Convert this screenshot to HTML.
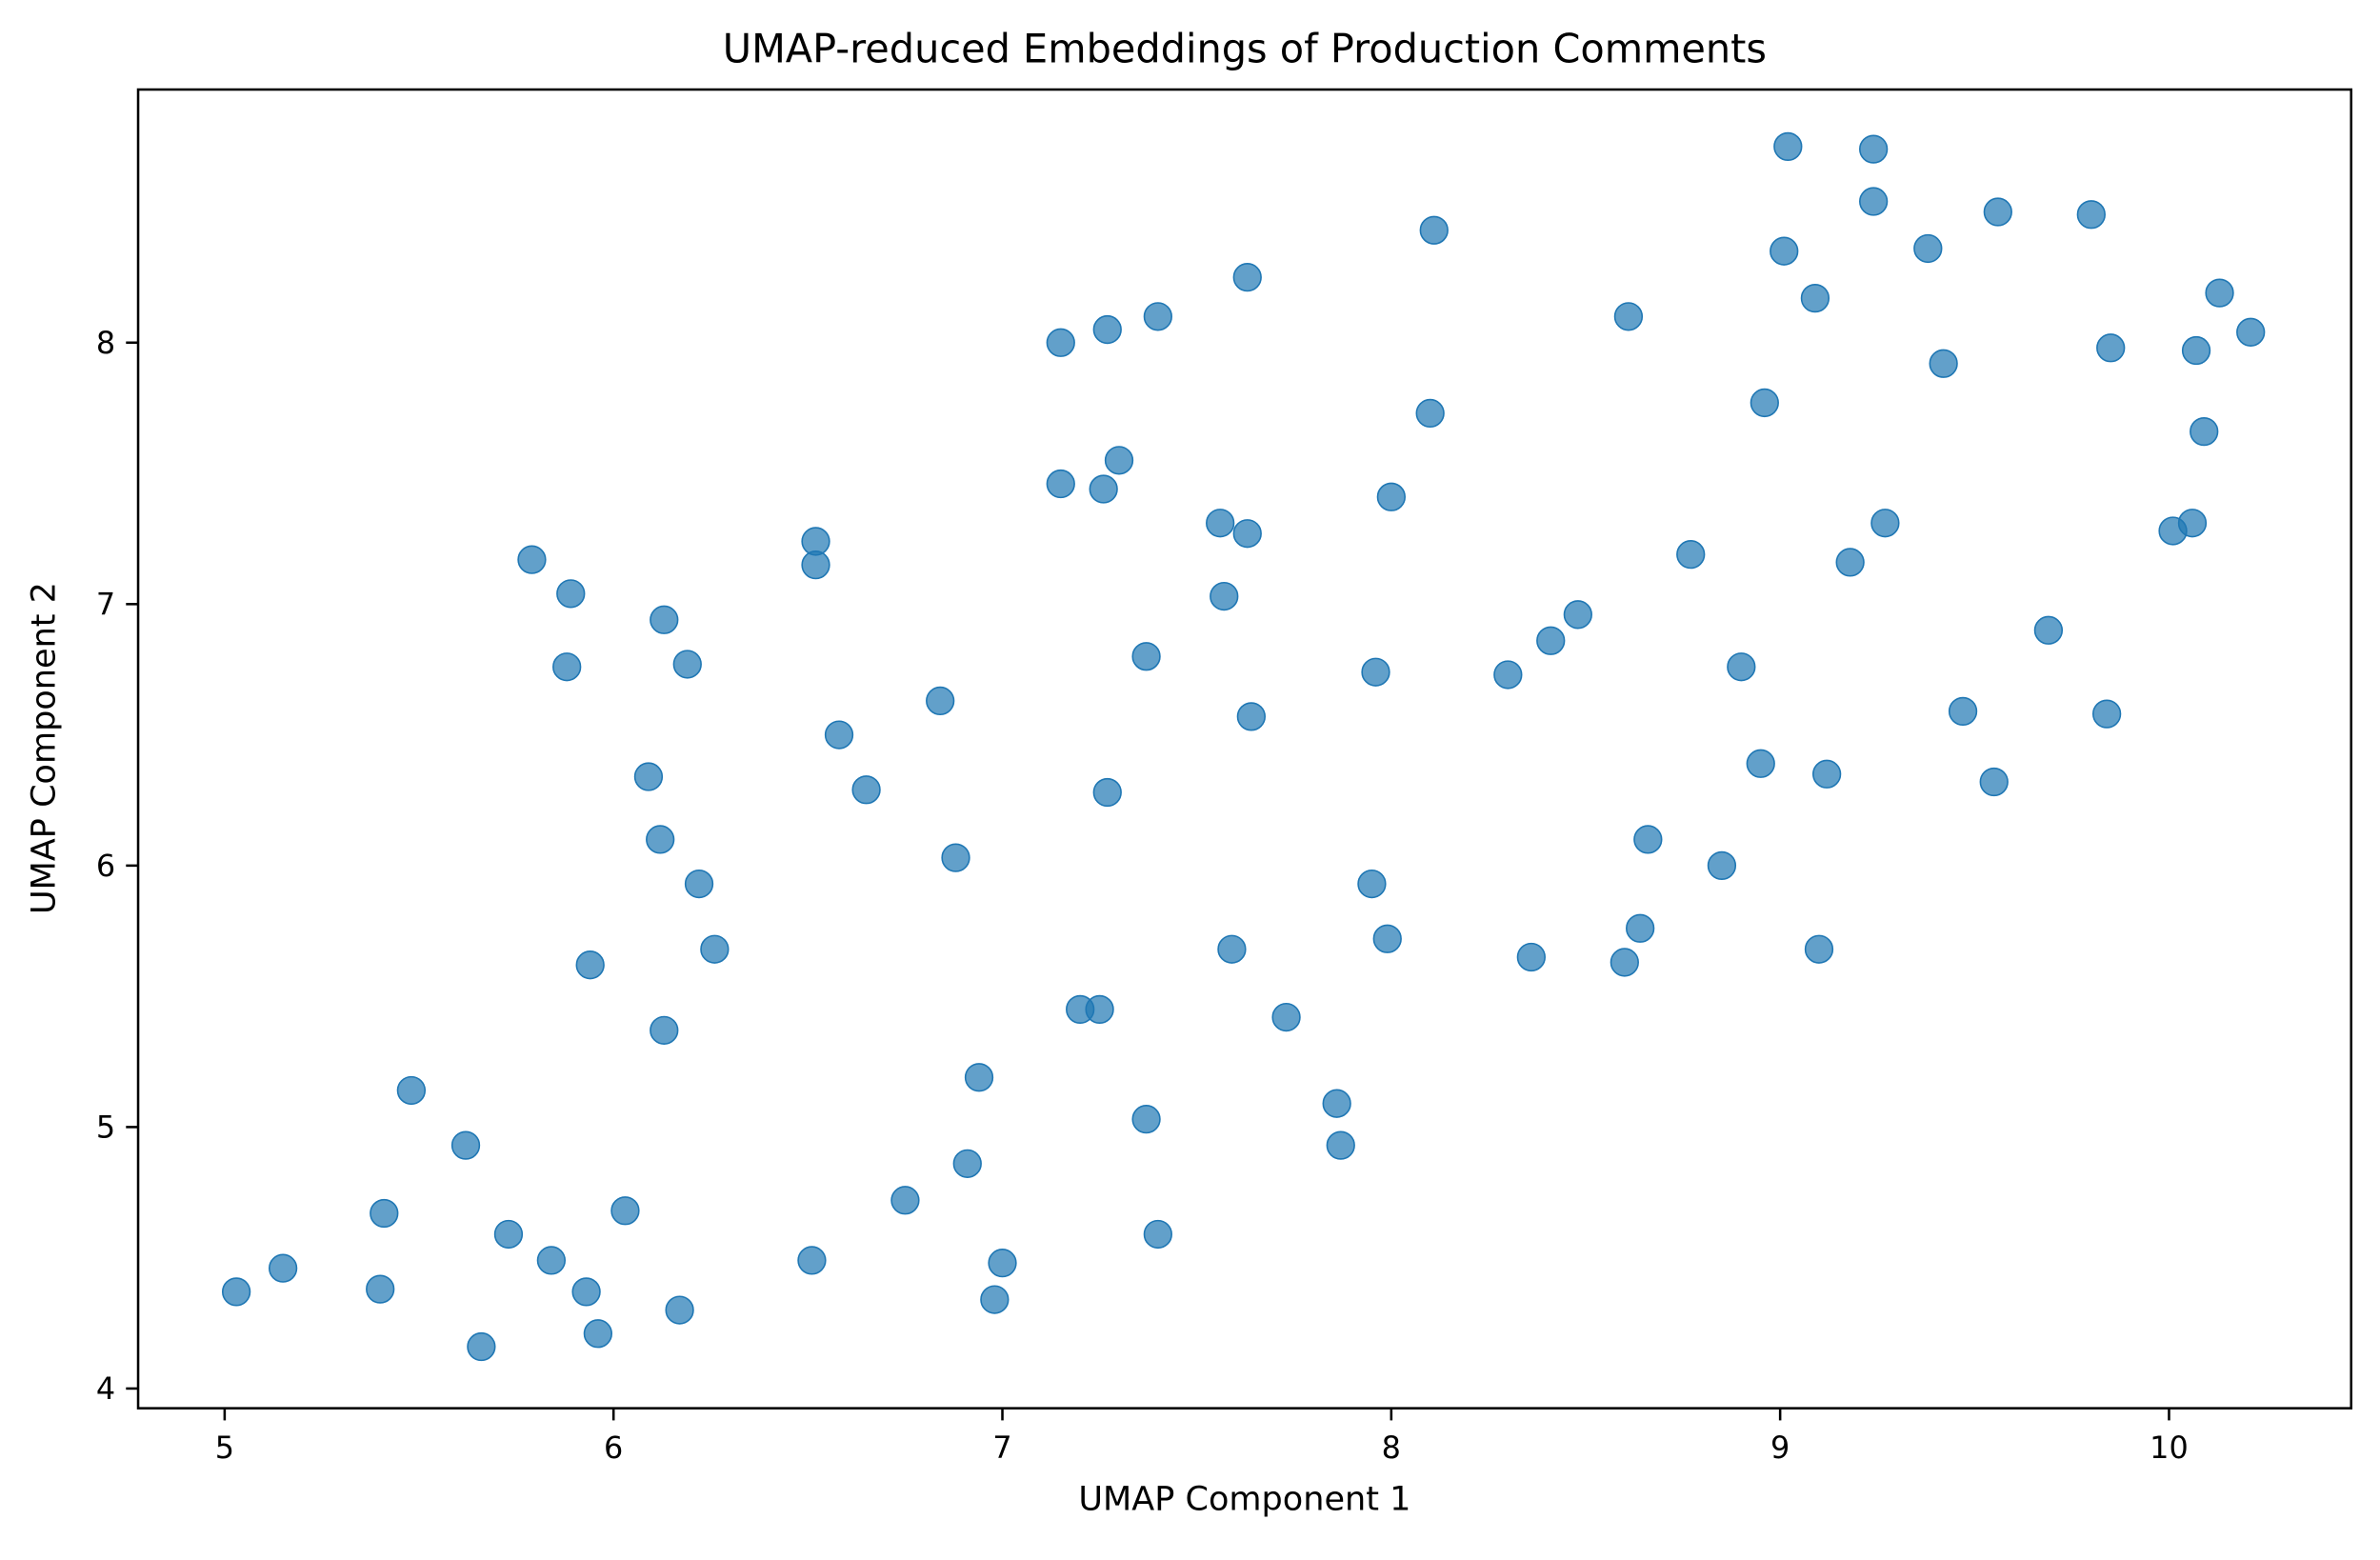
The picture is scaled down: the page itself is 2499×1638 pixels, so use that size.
<!DOCTYPE html>
<html><head><meta charset="utf-8">
<style>
html,body{margin:0;padding:0;background:#fff;}
svg{display:block;font-family:"DejaVu Sans","Liberation Sans",sans-serif;}
</style></head>
<body>
<svg id="chart" width="2499" height="1638" viewBox="0 0 1568 1028" preserveAspectRatio="none" xmlns="http://www.w3.org/2000/svg">
<rect width="1568" height="1028" fill="#fff"/>
<text x="820" y="41" font-size="26" text-anchor="middle" fill="#000">UMAP-reduced Embeddings of Production Comments</text>
<g id="points"></g>
<g id="axes"></g>
<rect x="91" y="59" width="1458" height="869" fill="none" stroke="#000" stroke-width="1.6"/>
<text x="820" y="995" font-size="22" text-anchor="middle" fill="#000">UMAP Component 1</text>
<text x="0" y="0" font-size="22" text-anchor="middle" fill="#000" transform="translate(36,493) rotate(-90)">UMAP Component 2</text>
</svg>
<script>
const xs = [9.02,9.24,9.24,9.56,9.80,8.11,9.38,9.01,7.63,9.09,10.13,10.21,10.07,9.85,8.61,7.40,7.27,7.15,9.42,8.96,8.10,10.09,7.30,7.15,7.26,8.00,7.56,7.63,9.27,10.06,10.01,6.52,6.52,5.79,8.77,9.18,5.89,7.57,6.13,8.48,9.69,8.41,7.37,5.88,6.19,8.90,7.96,8.30,6.84,7.64,9.47,9.84,6.58,8.95,6.09,9.12,9.55,6.65,7.27,6.12,8.66,6.88,8.85,6.22,7.95,8.64,7.99,7.59,6.26,9.10,5.94,8.36,8.60,7.20,7.25,7.73,6.13,5.48,6.94,7.86,5.62,7.87,7.37,6.91,6.75,5.41,6.03,5.73,7.40,6.51,5.84,7.00,5.15,5.03,5.40,5.93,6.98,6.17,5.96,5.66];
const ys = [8.75,8.74,8.54,8.50,8.49,8.43,8.36,8.35,8.25,8.17,8.19,8.04,7.97,7.98,8.10,8.10,8.05,8.00,7.92,7.77,7.73,7.66,7.55,7.46,7.44,7.41,7.31,7.27,7.31,7.31,7.28,7.24,7.15,7.17,7.19,7.16,7.04,7.03,6.94,6.96,6.90,6.86,6.80,6.76,6.77,6.76,6.74,6.73,6.63,6.57,6.59,6.58,6.50,6.39,6.34,6.35,6.32,6.29,6.28,6.10,6.10,6.03,6.00,5.93,5.93,5.76,5.72,5.68,5.68,5.68,5.62,5.65,5.63,5.45,5.45,5.42,5.37,5.14,5.19,5.09,4.93,4.93,5.03,4.86,4.72,4.67,4.68,4.59,4.59,4.49,4.49,4.48,4.46,4.37,4.38,4.37,4.34,4.30,4.21,4.16];
const xTicks = [5,6,7,8,9,10];
const yTicks = [4,5,6,7,8];

const NS = "http://www.w3.org/2000/svg";
function sx(v){ return 148 + (v - 5) * 256.2; }
function sy(v){ return 915 - (v - 4) * 172.3; }

const pg = document.getElementById('points');
for (let i = 0; i < xs.length; i++) {
  const c = document.createElementNS(NS, 'circle');
  c.setAttribute('cx', sx(xs[i]));
  c.setAttribute('cy', sy(ys[i]));
  c.setAttribute('r', 9);
  c.setAttribute('fill', '#1f77b4');
  c.setAttribute('fill-opacity', '0.7');
  c.setAttribute('stroke', '#1f77b4');
  c.setAttribute('stroke-width', '1');
  
  
  pg.appendChild(c);
}

const ag = document.getElementById('axes');
xTicks.forEach(t => {
  const x = sx(t);
  const l = document.createElementNS(NS, 'line');
  l.setAttribute('x1', x); l.setAttribute('x2', x);
  l.setAttribute('y1', 928); l.setAttribute('y2', 936);
  l.setAttribute('stroke', '#000'); l.setAttribute('stroke-width', '1.6');
  
  
  ag.appendChild(l);
  const tx = document.createElementNS(NS, 'text');
  tx.setAttribute('x', x); tx.setAttribute('y', 961);
  tx.setAttribute('font-size', '20'); tx.setAttribute('text-anchor', 'middle');
  tx.textContent = t;
  
  
  ag.appendChild(tx);
});
yTicks.forEach(t => {
  const y = sy(t);
  const l = document.createElementNS(NS, 'line');
  l.setAttribute('x1', 83); l.setAttribute('x2', 91);
  l.setAttribute('y1', y); l.setAttribute('y2', y);
  l.setAttribute('stroke', '#000'); l.setAttribute('stroke-width', '1.6');
  
  
  ag.appendChild(l);
  const tx = document.createElementNS(NS, 'text');
  tx.setAttribute('x', 76); tx.setAttribute('y', y + 7);
  tx.setAttribute('font-size', '20'); tx.setAttribute('text-anchor', 'end');
  tx.textContent = t;
  
  
  ag.appendChild(tx);
});
</script>
</body></html>
